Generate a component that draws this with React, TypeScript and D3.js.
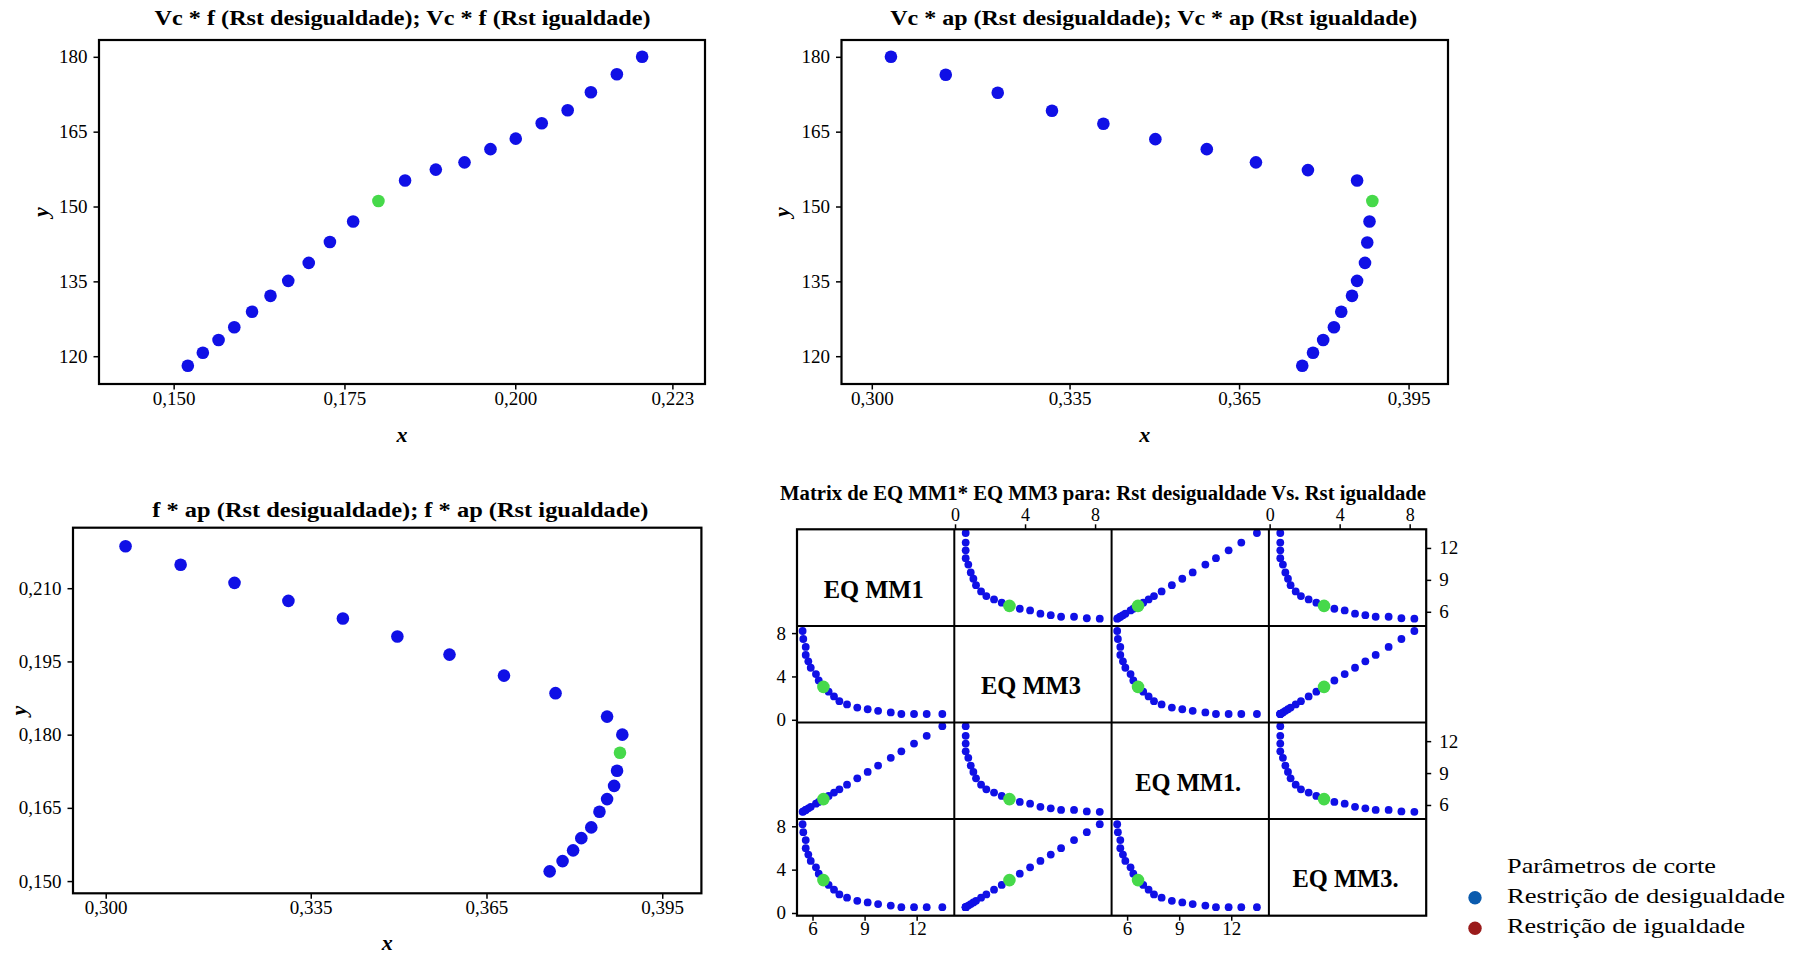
import React from 'react';
import * as d3 from 'd3';

const FONT = '"Liberation Serif", "Times New Roman", serif';
const BLUE = '#1010E6';
const GREEN = '#46D94A';
const LEG_BLUE = '#0A5BAE';
const LEG_RED = '#9A1B1B';

// ---- Chart 1: Vc * f ----
const vcF_f = [0.1520, 0.1542, 0.1565, 0.1588, 0.1614, 0.1641, 0.1667, 0.1697, 0.1728, 0.1762, 0.1838, 0.1883, 0.1925, 0.1963, 0.2000, 0.2038, 0.2076, 0.2110, 0.2148, 0.2185];
const vcF_vc = [118.2, 120.8, 123.35, 125.9, 129.0, 132.2, 135.2, 138.8, 143.0, 147.1, 155.3, 157.5, 158.95, 161.6, 163.7, 166.8, 169.4, 173.0, 176.6, 180.1];
const vcF_opt_f = [0.1799];
const vcF_opt_vc = [151.2];

// ---- Chart 2: Vc * ap ----
const vcAp_ap = [0.3033, 0.3130, 0.3222, 0.3318, 0.3409, 0.3501, 0.3592, 0.3679, 0.3771, 0.3858, 0.3880, 0.3876, 0.3872, 0.3858, 0.3849, 0.3830, 0.3817, 0.3798, 0.3780, 0.3761];
const vcAp_vc = [180.1, 176.5, 172.9, 169.3, 166.7, 163.6, 161.6, 158.95, 157.4, 155.3, 147.1, 142.9, 138.8, 135.2, 132.2, 129.0, 125.9, 123.35, 120.8, 118.2];
const vcAp_opt_ap = [0.3885];
const vcAp_opt_vc = [151.2];

// ---- Chart 3: f * ap ----
const fAp_ap = [0.3033, 0.3127, 0.3219, 0.3311, 0.3404, 0.3497, 0.3586, 0.3679, 0.3767, 0.3855, 0.3881, 0.3872, 0.3867, 0.3855, 0.3842, 0.3828, 0.3811, 0.3797, 0.3779, 0.3757];
const fAp_f = [0.2187, 0.2149, 0.2112, 0.2075, 0.2039, 0.2002, 0.1965, 0.1922, 0.1886, 0.1838, 0.1801, 0.1727, 0.1696, 0.1669, 0.1643, 0.1611, 0.1589, 0.1564, 0.1542, 0.1521];
const fAp_opt_ap = [0.3877];
const fAp_opt_f = [0.1764];

// ---- Ticks ----
const ticksF1 = [0.150, 0.175, 0.200, 0.223];
const ticksVc = [120, 135, 150, 165, 180];
const ticksAp = [0.300, 0.335, 0.365, 0.395];
const ticksF3 = [0.150, 0.165, 0.180, 0.195, 0.210];

// ---- Matrix data (EQMM1, EQMM3) ----
const eqmm1 = [5.40, 5.44, 5.58, 5.58, 5.73, 5.87, 6.17, 6.33, 6.90, 7.21, 7.52, 7.96, 8.55, 9.15, 9.75, 10.48, 11.09, 11.82, 12.55, 13.45];
const eqmm3 = [8.24, 7.50, 6.77, 6.03, 5.44, 4.85, 4.26, 3.67, 2.64, 2.20, 1.76, 1.46, 1.17, 1.02, 0.87, 0.73, 0.58, 0.58, 0.58, 0.58];
const eqmm1Opt = [6.60];
const eqmm3Opt = [3.08];
const matrixVars = ['EQ MM1', 'EQ MM3', 'EQ MM1.', 'EQ MM3.'];
const ticksEq1 = [6, 9, 12];
const ticksEq3 = [0, 4, 8];

const legendTitle = 'Parâmetros de corte';
const legendItems = ['Restrição de desigualdade', 'Restrição de igualdade'];

const fmt3 = (v: number) => v.toFixed(3).replace('.', ',');

type PanelProps = {
  left: number; top: number; right: number; bottom: number;
  xDom: [number, number]; yDom: [number, number];
  xTicks: number[]; yTicks: number[];
  xs: number[]; ys: number[]; ox: number[]; oy: number[];
  title: string; titleCx: number; titleBase: number; titleLen: number;
  xLabBase: number; yLabX: number;
};

function Panel(p: PanelProps) {
  const x = d3.scaleLinear().domain(p.xDom).range([p.left, p.right]);
  const y = d3.scaleLinear().domain(p.yDom).range([p.bottom, p.top]);
  const fmtY = (v: number) => (v < 1 ? fmt3(v) : String(v));
  return (
    <g>
      <text x={p.titleCx} y={p.titleBase} textAnchor="middle" fontFamily={FONT} fontWeight="bold" fontSize={20}
        textLength={p.titleLen} lengthAdjust="spacingAndGlyphs">{p.title}</text>
      <rect x={p.left} y={p.top} width={p.right - p.left} height={p.bottom - p.top} fill="none" stroke="#000" strokeWidth={2.2} />
      {p.yTicks.map((t) => (
        <g key={'y' + t}>
          <line x1={p.left - 5.5} x2={p.left} y1={y(t)} y2={y(t)} stroke="#000" strokeWidth={1.5} />
          <text x={p.left - 11.5} y={y(t) + 6} textAnchor="end" fontFamily={FONT} fontSize={19}>{fmtY(t)}</text>
        </g>
      ))}
      {p.xTicks.map((t) => (
        <g key={'x' + t}>
          <line x1={x(t)} x2={x(t)} y1={p.bottom} y2={p.bottom + 5.5} stroke="#000" strokeWidth={1.5} />
          <text x={x(t)} y={p.bottom + 20.5} textAnchor="middle" fontFamily={FONT} fontSize={19}>{fmt3(t)}</text>
        </g>
      ))}
      {p.xs.map((v, i) => (
        <circle key={'p' + i} cx={x(v)} cy={y(p.ys[i])} r={6.3} fill={BLUE} />
      ))}
      {p.ox.map((v, i) => (
        <circle key={'o' + i} cx={x(v)} cy={y(p.oy[i])} r={6.3} fill={GREEN} />
      ))}
      <text x={(p.left + p.right) / 2} y={p.xLabBase} textAnchor="middle" fontFamily={FONT} fontWeight="bold" fontStyle="italic" fontSize={22}>x</text>
      <text transform={`translate(${p.yLabX},${(p.top + p.bottom) / 2}) rotate(-90)`} textAnchor="middle" dy="0.3em"
        fontFamily={FONT} fontWeight="bold" fontStyle="italic" fontSize={22}>y</text>
    </g>
  );
}

function Matrix() {
  const mLeft = 797, mTop = 529.3, cw = 157.3, ch = 96.6;
  const mRight = mLeft + 4 * cw, mBottom = mTop + 4 * ch;
  const xDomains: [number, number][] = [[5.078, 14.14], [-0.07, 8.916]];
  const yDomains: [number, number][] = [[4.72, 13.80], [-0.204, 8.71]];
  const data = [eqmm1, eqmm3];
  const opt = [eqmm1Opt, eqmm3Opt];
  const xs = (c: number) => d3.scaleLinear().domain(xDomains[c % 2]).range([mLeft + c * cw, mLeft + (c + 1) * cw]);
  const ys = (r: number) => d3.scaleLinear().domain(yDomains[r % 2]).range([mTop + (r + 1) * ch, mTop + r * ch]);
  const cells: JSX.Element[] = [];
  for (let r = 0; r < 4; r++) {
    for (let c = 0; c < 4; c++) {
      const cx0 = mLeft + c * cw, cy0 = mTop + r * ch;
      if (r === c) {
        cells.push(
          <text key={`l${r}`} x={cx0 + cw / 2 - 2} y={cy0 + ch / 2 + 20} textAnchor="middle" fontFamily={FONT}
            fontWeight="bold" fontSize={26} textLength={matrixVars[r].endsWith('.') ? 106 : 100} lengthAdjust="spacingAndGlyphs">
            {matrixVars[r]}
          </text>
        );
        continue;
      }
      const sx = xs(c), sy = ys(r);
      const dx = data[c % 2], dy = data[r % 2];
      const pts = dx.map((v, i) => <circle key={`p${r}${c}${i}`} cx={sx(v)} cy={sy(dy[i])} r={3.9} fill={BLUE} />);
      const op = opt[c % 2].map((v, i) => <circle key={`o${r}${c}${i}`} cx={sx(v)} cy={sy(opt[r % 2][i])} r={6.3} fill={GREEN} />);
      cells.push(<g key={`c${r}${c}`}>{pts}{op}</g>);
    }
  }
  const grid: JSX.Element[] = [];
  for (let i = 1; i < 4; i++) {
    grid.push(<line key={`v${i}`} x1={mLeft + i * cw} x2={mLeft + i * cw} y1={mTop} y2={mBottom} stroke="#000" strokeWidth={2} />);
    grid.push(<line key={`h${i}`} x1={mLeft} x2={mRight} y1={mTop + i * ch} y2={mTop + i * ch} stroke="#000" strokeWidth={2} />);
  }
  const axes: JSX.Element[] = [];
  [1, 3].forEach((c) => {
    const sx = xs(c);
    ticksEq3.forEach((t) => {
      axes.push(<line key={`tt${c}${t}`} x1={sx(t)} x2={sx(t)} y1={mTop - 5} y2={mTop} stroke="#000" strokeWidth={1.5} />);
      axes.push(<text key={`tl${c}${t}`} x={sx(t)} y={mTop - 8.3} textAnchor="middle" fontFamily={FONT} fontSize={18}>{t}</text>);
    });
  });
  [0, 2].forEach((c) => {
    const sx = xs(c);
    ticksEq1.forEach((t) => {
      axes.push(<line key={`bt${c}${t}`} x1={sx(t)} x2={sx(t)} y1={mBottom} y2={mBottom + 5} stroke="#000" strokeWidth={1.5} />);
      axes.push(<text key={`bl${c}${t}`} x={sx(t)} y={mBottom + 19.5} textAnchor="middle" fontFamily={FONT} fontSize={19}>{t}</text>);
    });
  });
  [0, 2].forEach((r) => {
    const sy = ys(r);
    ticksEq1.forEach((t) => {
      axes.push(<line key={`rt${r}${t}`} x1={mRight} x2={mRight + 5} y1={sy(t)} y2={sy(t)} stroke="#000" strokeWidth={1.5} />);
      axes.push(<text key={`rl${r}${t}`} x={mRight + 13} y={sy(t) + 6} textAnchor="start" fontFamily={FONT} fontSize={19}>{t}</text>);
    });
  });
  [1, 3].forEach((r) => {
    const sy = ys(r);
    ticksEq3.forEach((t) => {
      axes.push(<line key={`lt${r}${t}`} x1={mLeft - 5} x2={mLeft} y1={sy(t)} y2={sy(t)} stroke="#000" strokeWidth={1.5} />);
      axes.push(<text key={`ll${r}${t}`} x={mLeft - 11} y={sy(t) + 6} textAnchor="end" fontFamily={FONT} fontSize={19}>{t}</text>);
    });
  });
  return (
    <g>
      <text x={780} y={499.5} textAnchor="start" fontFamily={FONT} fontWeight="bold" fontSize={20}
        textLength={646} lengthAdjust="spacingAndGlyphs">Matrix de EQ MM1* EQ MM3 para: Rst desigualdade Vs. Rst igualdade</text>
      {cells}
      {grid}
      <rect x={mLeft} y={mTop} width={mRight - mLeft} height={mBottom - mTop} fill="none" stroke="#000" strokeWidth={2.2} />
      {axes}
    </g>
  );
}

function Legend() {
  const colors = [LEG_BLUE, LEG_RED];
  const lens = [278, 238];
  return (
    <g fontFamily={FONT}>
      <text x={1507} y={873} fontSize={22} textLength={209} lengthAdjust="spacingAndGlyphs">{legendTitle}</text>
      {legendItems.map((s, i) => (
        <g key={s}>
          <circle cx={1475} cy={897.7 + i * 30.6} r={6.7} fill={colors[i]} />
          <text x={1507} y={903.3 + i * 30} fontSize={22} textLength={lens[i]} lengthAdjust="spacingAndGlyphs">{s}</text>
        </g>
      ))}
    </g>
  );
}

export default function App() {
  return (
    <svg width={1809} height={955} style={{ position: 'absolute', left: 0, top: 0, background: '#fff' }}>
      <rect x={0} y={0} width={1809} height={955} fill="#fff" />
      <Panel left={99} top={40} right={705} bottom={384}
        xDom={[0.1390, 0.2277]} yDom={[114.53, 183.47]}
        xTicks={ticksF1} yTicks={ticksVc}
        xs={vcF_f} ys={vcF_vc} ox={vcF_opt_f} oy={vcF_opt_vc}
        title="Vc * f (Rst desigualdade); Vc * f (Rst igualdade)" titleCx={402.6} titleBase={25} titleLen={496}
        xLabBase={441.7} yLabX={41.5} />
      <Panel left={841.5} top={40} right={1448} bottom={384}
        xDom={[0.29455, 0.40189]} yDom={[114.53, 183.47]}
        xTicks={ticksAp} yTicks={ticksVc}
        xs={vcAp_ap} ys={vcAp_vc} ox={vcAp_opt_ap} oy={vcAp_opt_vc}
        title="Vc * ap (Rst desigualdade); Vc * ap (Rst igualdade)" titleCx={1153.7} titleBase={25} titleLen={527}
        xLabBase={441.7} yLabX={782.5} />
      <Panel left={73} top={527.7} right={701.4} bottom={893.3}
        xDom={[0.29433, 0.4016]} yDom={[0.1476, 0.2225]}
        xTicks={ticksAp} yTicks={ticksF3}
        xs={fAp_ap} ys={fAp_f} ox={fAp_opt_ap} oy={fAp_opt_f}
        title="f * ap (Rst desigualdade); f * ap (Rst igualdade)" titleCx={400.3} titleBase={516.7} titleLen={496}
        xLabBase={950} yLabX={19.4} />
      <Matrix />
      <Legend />
    </svg>
  );
}
